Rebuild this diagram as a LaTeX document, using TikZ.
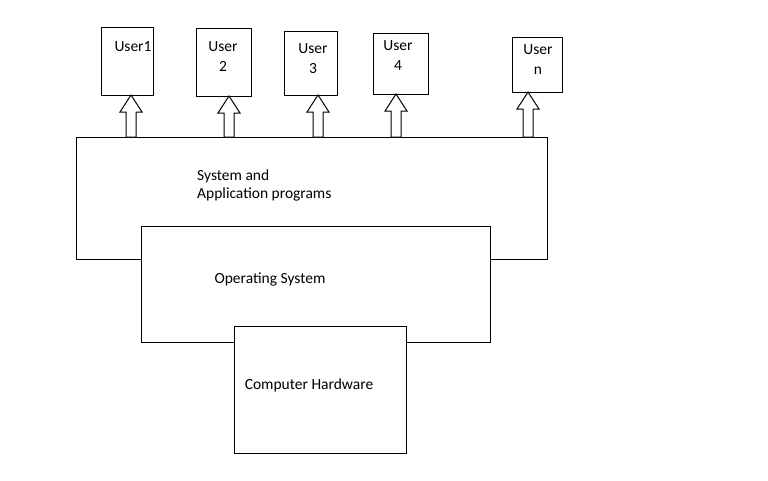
\documentclass[tikz,border=0pt]{standalone}
\usepackage{fontspec}
\setmainfont{Carlito}
\usetikzlibrary{positioning}
\tikzset{%
  blk/.style = {rectangle,draw,line width=1pt,fill=white,inner sep=0pt,anchor=north west},
  usr/.style = {blk},
  lbl/.style = {align=left,inner sep=0pt,font=\fontsize{15.5}{18}\selectfont},
  ulbl/.style = {align=center,inner sep=0pt,font=\fontsize{15.5}{20}\selectfont},
  uparrow/.style = {draw,line width=1pt,fill=white,line join=miter}
}
\newcommand{\blockup}[3]{% x, bottom y, top y
  \draw[uparrow] (#1-5,#2) -- (#1-5,#3+17) -- (#1-11,#3+17) -- (#1,#3)
    -- (#1+11,#3+17) -- (#1+5,#3+17) -- (#1+5,#2) -- cycle;}

\begin{document}
\begin{tikzpicture}[x=1pt,y=-1pt]
   \useasboundingbox (0,0) rectangle (768,480);
   \node[blk,minimum width=471,minimum height=122] (sys) at (76,137) {};
   \node[blk,minimum width=349,minimum height=116] (os) at (141,226) {};
   \node[blk,minimum width=172,minimum height=127] (hw) at (234,326) {};

   \node[lbl,anchor=north west] (sysl) at (197,170) {System and\\Application programs};
   \node[lbl] (osl) at (270,279) {Operating System};
   \node[lbl] (hwl) at (309,385) {Computer Hardware};

   \node[usr,minimum width=52,minimum height=68] (u1) at (101,27) {};
   \node[usr,minimum width=55,minimum height=68] (u2) at (196,28) {};
   \node[usr,minimum width=53,minimum height=64] (u3) at (284,31) {};
   \node[usr,minimum width=55,minimum height=61] (u4) at (373,33) {};
   \node[usr,minimum width=50,minimum height=55] (un) at (512,37) {};

   \node[ulbl] (u1l) at (133,47) {User1};
   \node[ulbl] (u2l) at (223,57) {User\\2};
   \node[ulbl] (u3l) at (313,59) {User\\3};
   \node[ulbl] (u4l) at (398,56) {User\\4};
   \node[ulbl] (unl) at (538,60) {User\\n};

   \blockup{131}{137}{95}
   \blockup{229}{137}{96}
   \blockup{318}{137}{95}
   \blockup{396}{137}{94}
   \blockup{528}{137}{92}
\end{tikzpicture}
\end{document}
